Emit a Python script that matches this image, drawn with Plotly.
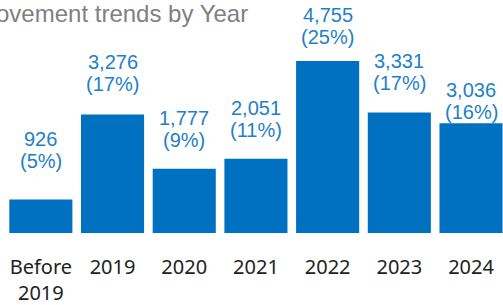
import plotly.graph_objects as go

categories = ["Before<br>2019", "2019", "2020", "2021", "2022", "2023", "2024"]
values = [926, 3276, 1777, 2051, 4755, 3331, 3036]
percents = [5, 17, 9, 11, 25, 17, 16]
title_text = "Improvement trends by Year"

# label offsets above bar tops (pixels), styling only
label_offsets = [26, 17, 16, 16, 11, 16, -2]

BAR = "#0070C0"
LABEL = "#1F80C8"

fig = go.Figure(go.Bar(
    x=list(range(len(categories))), y=values,
    marker=dict(color=BAR, line=dict(width=0)),
    hoverinfo="skip",
))

ann = []
for i, (v, p, off) in enumerate(zip(values, percents, label_offsets)):
    ann.append(dict(x=i, y=v, xref="x", yref="y", yanchor="bottom", yshift=off,
                    text=f"({p}%)", showarrow=False,
                    font=dict(family="Liberation Sans, Arial", size=20, color=LABEL)))
    ann.append(dict(x=i, y=v, xref="x", yref="y", yanchor="bottom", yshift=off + 22,
                    text=f"{v:,}", showarrow=False,
                    font=dict(family="Liberation Sans, Arial", size=20, color=LABEL)))

ann.append(dict(x=(250 - 5) / 498, y=1, xref="paper", yref="paper", yshift=2,
                xanchor="right", yanchor="top", text=title_text, showarrow=False,
                font=dict(family="Liberation Sans, Arial", size=24, color="#808080")))

fig.update_layout(
    width=503, height=305,
    margin=dict(l=5, r=0, t=0, b=72),
    paper_bgcolor="white", plot_bgcolor="white",
    bargap=0.12, showlegend=False,
    annotations=ann,
    xaxis=dict(range=[-0.5, 6.446], showline=False, ticks="",
               tickmode="array", tickvals=list(range(len(categories))),
               ticktext=categories, automargin=False,
               showgrid=False, zeroline=False, ticklabelstandoff=20,
               tickfont=dict(family="Noto Sans", size=20, color="#222222")),
    yaxis=dict(visible=False, range=[0, 6440], showgrid=False, zeroline=False,
               automargin=False),
)

fig.write_html("out.html", config={"displayModeBar": False},
               post_script="document.body.style.margin='0';")
